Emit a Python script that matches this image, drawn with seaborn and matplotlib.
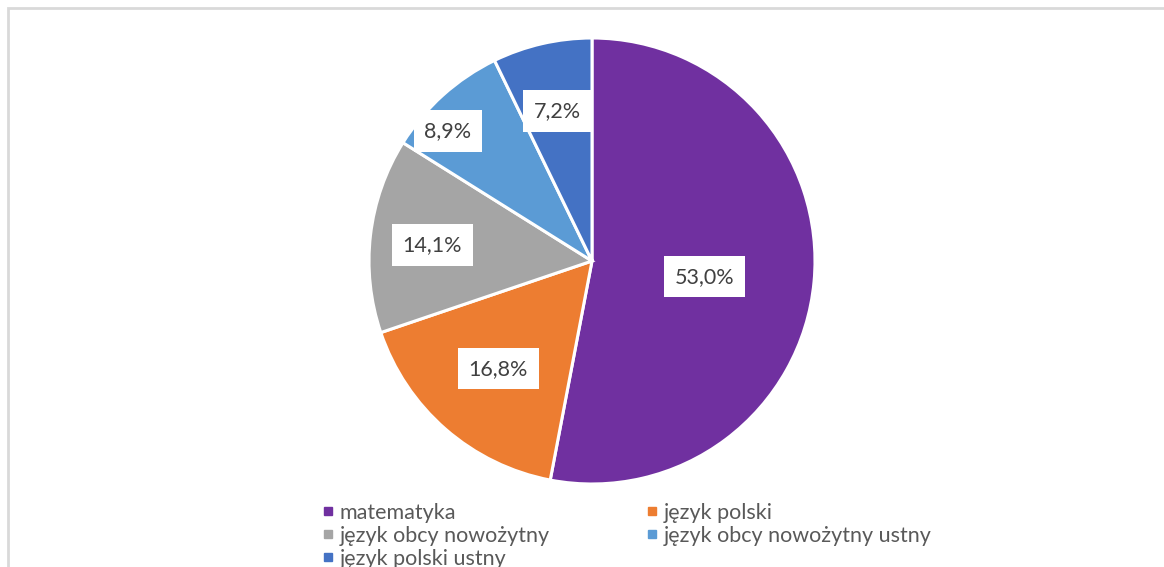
import matplotlib
matplotlib.use("Agg")
import matplotlib.pyplot as plt
import matplotlib.patches as mpatches
from matplotlib.lines import Line2D
import numpy as np
import seaborn as sns

przedmioty = ["matematyka", "język polski", "język obcy nowożytny",
              "język obcy nowożytny ustny", "język polski ustny"]
udzialy = [53.0, 16.8, 14.1, 8.9, 7.2]
etykiety = ["53,0%", "16,8%", "14,1%", "8,9%", "7,2%"]

kolory = ["#7030A0", "#ED7D31", "#A5A5A5", "#5B9BD5", "#4472C4"]
# polozenie etykiet: odleglosc od srodka (ulamek promienia) i korekta kata
odl_etykiet = [0.51, 0.64, 0.72, 0.87, 0.69]
korekta_kata = [-2.5, 0.0, 1.0, 6.0, 0.0]

sns.set_theme(style="white")
plt.rcParams["font.family"] = ["Lato", "DejaVu Sans"]

W, H = 1164, 567
fig = plt.figure(figsize=(W / 100, H / 100), dpi=100)

# ramka wykresu (przycieta z prawej i od dolu)
fig.add_artist(mpatches.Rectangle((8 / W, -0.2), 1.5, (H - 8) / H + 0.2,
                                  transform=fig.transFigure, fill=False,
                                  edgecolor="#D9D9D9", linewidth=2))

cx, cy, r = 592, H - 261, 223
ax = fig.add_axes([(cx - r) / W, (cy - r) / H, 2 * r / W, 2 * r / H])
wedges, _ = ax.pie(udzialy, colors=kolory, startangle=90, counterclock=False,
                   wedgeprops=dict(edgecolor="white", linewidth=2.2))
ax.set_xlim(-1, 1)
ax.set_ylim(-1, 1)
ax.set_aspect("equal")
ax.axis("off")

for w, txt, d, k in zip(wedges, etykiety, odl_etykiet, korekta_kata):
    ang = np.deg2rad((w.theta1 + w.theta2) / 2 + k)
    ax.text(d * np.cos(ang), d * np.sin(ang), txt, ha="center", va="center",
            fontsize=15.5, color="#404040",
            bbox=dict(boxstyle="square,pad=0.5", fc="white", ec="none"))

uchwyty = [Line2D([], [], marker="s", linestyle="none", markersize=5.5,
                  markerfacecolor=k, markeredgecolor=k) for k in kolory]
# legenda wypelniana wierszami (jak w Excelu)
kolejnosc = [0, 2, 4, 1, 3]
fig.legend([uchwyty[i] for i in kolejnosc], [przedmioty[i] for i in kolejnosc],
           ncol=2, loc="upper left",
           bbox_to_anchor=(312 / W, 1 - 492 / H), frameon=False,
           fontsize=15.5, labelcolor="#595959", handlelength=0.5,
           handletextpad=0.3, columnspacing=4.5, labelspacing=0.14,
           borderpad=0)

fig.savefig("out.png", dpi=100)
